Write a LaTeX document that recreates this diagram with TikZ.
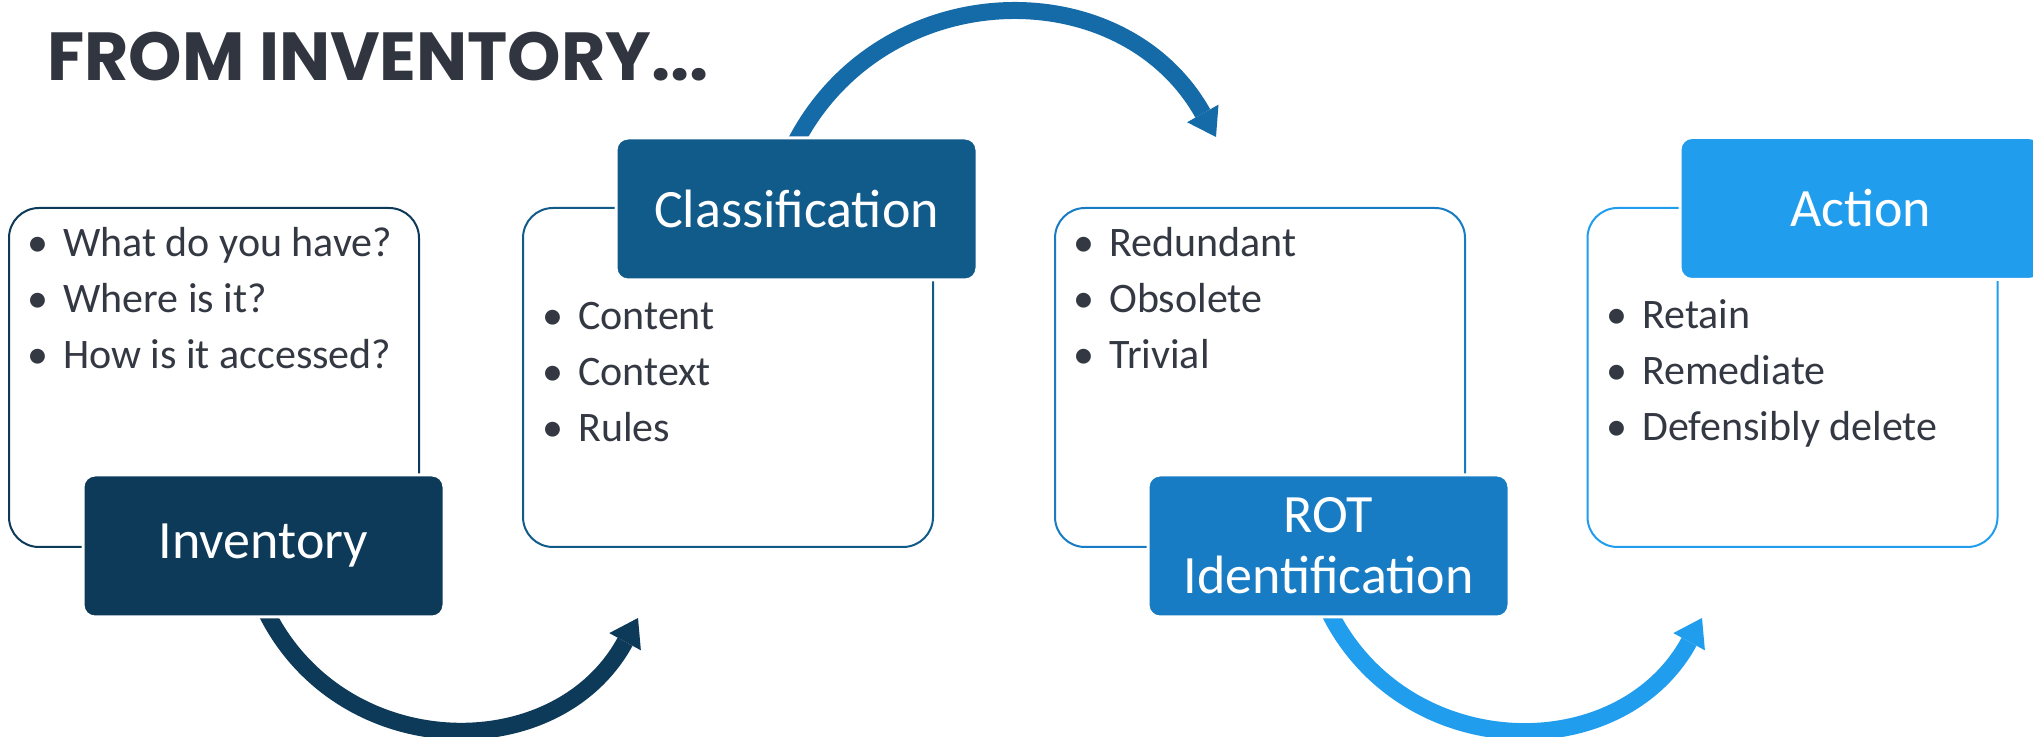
\documentclass[tikz,border=0pt]{standalone}
\usepackage{fontspec}
\setmainfont{Carlito}
\newfontfamily\titlefont{Poppins}
\usepackage{tikz}
\usetikzlibrary{arrows.meta, calc, backgrounds}
\definecolor{cNavy}{HTML}{0E3A5A}
\definecolor{cCls}{HTML}{115B8B}
\definecolor{cClsArc}{HTML}{156BA8}
\definecolor{cRot}{HTML}{177CC3}
\definecolor{cSky}{HTML}{219DEE}
\definecolor{cText}{HTML}{333842}
\definecolor{cTitle}{HTML}{31353F}
\newcommand{\bulletline}[1]{\makebox[36pt][l]{\textbullet}#1}

\begin{document}
\begin{tikzpicture}[x=1pt, y=1pt,
  outline/.style={draw=#1, line width=2pt, rounded corners=30pt,
                  minimum width=410pt, minimum height=339pt},
  tag/.style={fill=#1, draw=white, line width=3pt, rounded corners=12pt,
              minimum width=361pt, minimum height=142pt, text=white,
              align=center, font=\fontsize{54}{61}\selectfont},
  items/.style={anchor=base west, inner sep=0pt, text=cText,
                font=\fontsize{42}{56}\selectfont},
  flow/.style={draw=#1, line width=17pt, looseness=1.17,
               -{Triangle[length=27pt, width=36pt, line width=0pt]}},
]
  \useasboundingbox (0,0) rectangle (2033,736);

  \node[anchor=base west, inner sep=0pt, text=cTitle,
        font=\titlefont\bfseries\fontsize{68}{76}\selectfont] (title) at (47,655)
    {FROM INVENTORY...};

  % step labels
  \node[tag=cNavy] (inv) at (263.5,190) {Inventory};
  \node[tag=cCls] (cls) at (796.5,527) {Classification};
  \node[tag=cRot] (rot) at (1328.5,190) {ROT\\Identification};
  \node[tag=cSky] (act) at (1860.5,527.5) {Action};

  \coordinate (tip1) at (638,118);
  \coordinate (tip2) at (1216,599);
  \coordinate (tip3) at (1702,118);

  \begin{scope}[on background layer]
    \fill[white] (0,0) rectangle (2033,736);
    \node[outline=cNavy] (invbox) at (214,358.5) {};
    \node[outline=cCls] (clsbox) at (728,358.5) {};
    \node[outline=cRot] (rotbox) at (1260,358.5) {};
    \node[outline=cSky] (actbox) at (1792.5,358.5) {};
    \draw[flow=cNavy] ($(inv.south)+(2,8)$) to[out=-64, in=-118.6] (tip1);
    \draw[flow=cClsArc] ($(cls.north)+(-4,-12)$) to[out=64, in=119.3] (tip2);
    \draw[flow=cSky] ($(rot.south)+(0,8)$) to[out=-64, in=-118.6] (tip3);
  \end{scope}

  % bullet lists
  \node[items] (invlist) at (27,479) {\begin{tabular}[t]{@{}l@{}}
    \bulletline{What do you have?}\\ \bulletline{Where is it?}\\
    \bulletline{How is it accessed?}\end{tabular}};
  \node[items] (clslist) at (542,406) {\begin{tabular}[t]{@{}l@{}}
    \bulletline{Content}\\ \bulletline{Context}\\
    \bulletline{Rules}\end{tabular}};
  \node[items] (rotlist) at (1073,479) {\begin{tabular}[t]{@{}l@{}}
    \bulletline{Redundant}\\ \bulletline{Obsolete}\\
    \bulletline{Trivial}\end{tabular}};
  \node[items] (actlist) at (1606,407) {\begin{tabular}[t]{@{}l@{}}
    \bulletline{Retain}\\ \bulletline{Remediate}\\
    \bulletline{Defensibly delete}\end{tabular}};
\end{tikzpicture}
\end{document}
